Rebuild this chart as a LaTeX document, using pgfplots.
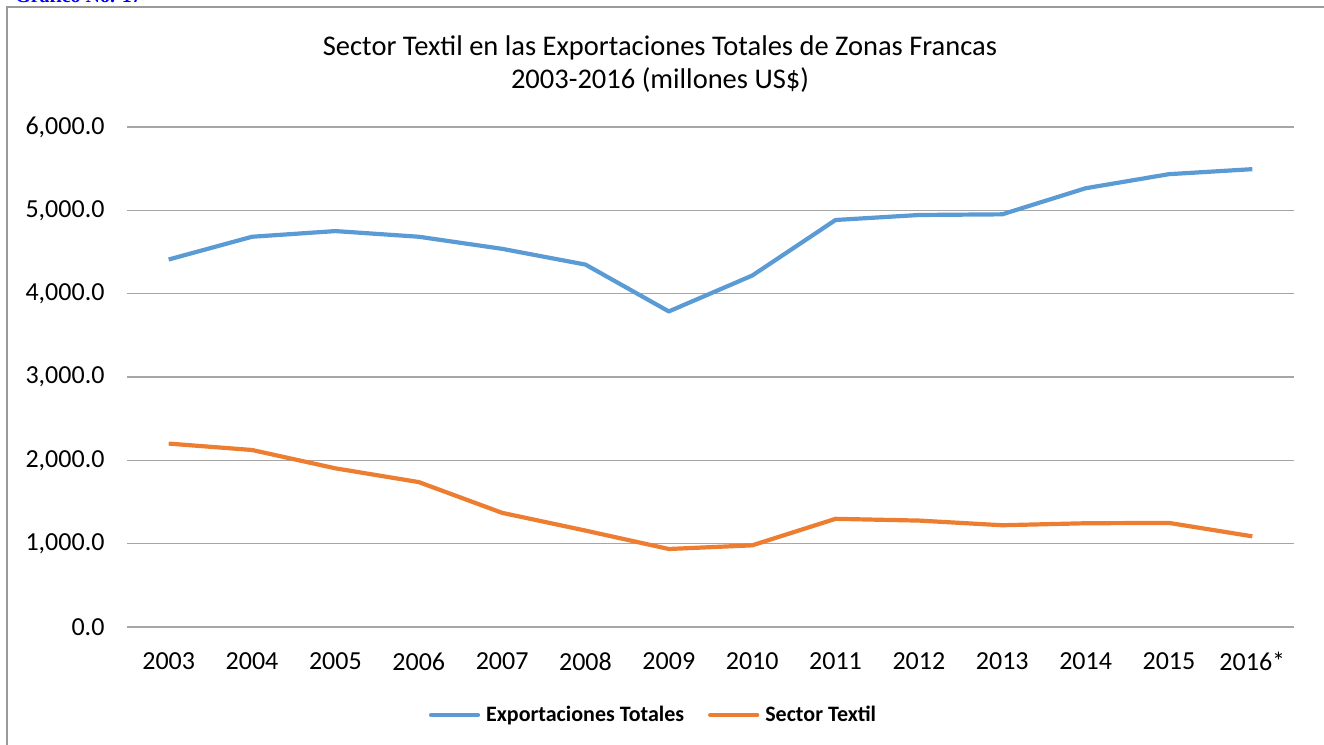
\documentclass[border=0pt]{standalone}
\usepackage{fontspec}
\setmainfont{Carlito}
\newfontfamily\serifb{Liberation Serif}
\usepackage{pgfplots}
\pgfplotsset{compat=1.18}

\definecolor{expblue}{HTML}{5B9BD5}
\definecolor{texorange}{HTML}{ED7D31}
\definecolor{gridgray}{HTML}{A6A6A6}
\definecolor{framegray}{HTML}{9A9A9A}

\pgfplotstableread{
x total textil
0  4410 2201
1  4683 2124
2  4751 1904
3  4683 1739
4  4538 1370
5  4349 1157
6  3787 936
7  4217 980
8  4884 1298
9  4944 1277
10 4952 1221
11 5265 1245
12 5434 1249
13 5494 1088
}\datatable

\begin{document}
\begin{tikzpicture}[x=1pt,y=1pt]
\useasboundingbox (0,0) rectangle (1324,744);
% outer chart frame
\draw[framegray, line width=1.5pt] (7,-10) -- (7,737) -- (1335,737);
% caption above the frame, cut off at the top edge as in the source
\node[anchor=base west, inner sep=0pt, text=blue, font=\serifb\bfseries\fontsize{20}{24}\selectfont] at (15,741) {Gráfico No. 17};
% title
\node[align=center, font=\fontsize{28.5}{33}\selectfont] at (660,680) {Sector Textil en las Exportaciones Totales de Zonas Francas\\2003-2016 (millones US\$)};
\begin{axis}[
    at={(127pt,117pt)}, anchor=south west,
    scale only axis,
    width=1167pt, height=500pt,
    xmin=-0.5, xmax=13.5,
    ymin=0, ymax=6000,
    xtick={0,...,13},
    xticklabels={2003,2004,2005,2006,2007,2008,2009,2010,2011,2012,2013,2014,2015,2016*},
    ytick={0,1000,...,6000},
    axis x line*=bottom,
    axis y line*=left,
    x axis line style={gridgray, line width=1.5pt},
    y axis line style={draw=none},
    ymajorgrids,
    grid style={gridgray, line width=1.3pt},
    major tick length=0pt,
    tick label style={font=\fontsize{26}{30}\selectfont, text=black},
    xticklabel style={yshift=-22pt},
    yticklabel style={xshift=-19pt},
    yticklabel={\pgfmathprintnumber{\tick}},
    /pgf/number format/.cd, fixed, fixed zerofill, precision=1, 1000 sep={,}, assume math mode=true,
    /pgfplots/.cd,
    legend columns=2,
    legend style={at={(0.4512,-0.176)}, anchor=center, draw=none, fill=none,
        font=\bfseries\fontsize{22}{26}\selectfont,
        /tikz/every even column/.append style={column sep=22pt}},
    legend image code/.code={\draw[#1, line width=4.2pt, line cap=round] (0pt,0pt) -- (47pt,0pt); \path (51pt,0pt);},
]
\addplot[expblue, line width=4.2pt, line join=round] table[x=x, y=total] {\datatable};
\addlegendentry{Exportaciones Totales}
\addplot[texorange, line width=4.2pt, line join=round] table[x=x, y=textil] {\datatable};
\addlegendentry{Sector Textil}
\end{axis}
\end{tikzpicture}
\end{document}
